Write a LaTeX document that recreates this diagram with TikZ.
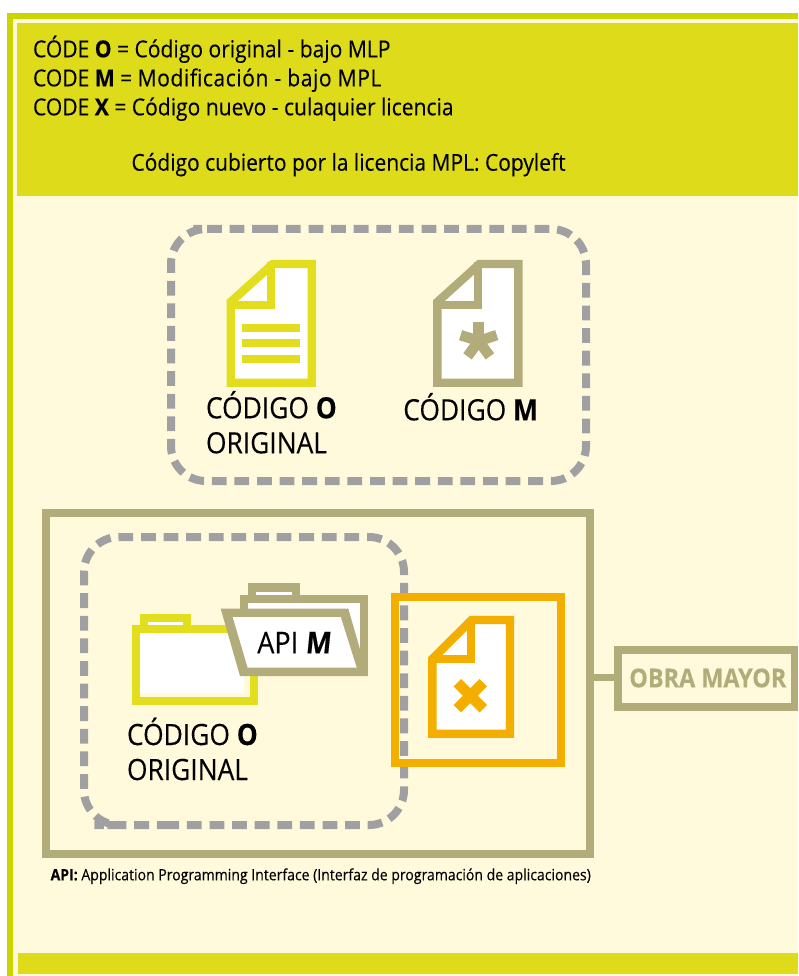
\documentclass[tikz,border=0pt]{standalone}
\usepackage{fontspec}
\setmainfont[FakeStretch=0.9,FakeBold=0.25]{Open Sans}
\definecolor{bordergreen}{HTML}{CCD500}
\definecolor{band}{HTML}{DEDB1A}
\definecolor{cream}{HTML}{FFFADC}
\definecolor{docyellow}{HTML}{E2DE1E}
\definecolor{olive}{HTML}{B2AC7B}
\definecolor{orangeb}{HTML}{F3AE00}
\definecolor{dashgrey}{HTML}{A0A0A3}
\newcommand{\fs}[1]{\fontsize{#1pt}{#1pt}\selectfont}
\tikzset{
  x=1pt,y=-1pt,
  txt/.style={anchor=base west,inner sep=0pt,outer sep=0pt,text=black},
  dashbox/.style={draw=dashgrey,line width=8pt,dash pattern=on 14.8pt off 7.8pt,rounded corners=35pt},
  docsheet/.style={line width=8.4pt,fill=white,miter limit=10},
  boxframe/.style={draw,rectangle,inner sep=0pt,outer sep=0pt},
}
\newcommand{\docicon}[3]{% x left, y top, colour
  \begin{scope}[shift={(#1,#2)}]
    \draw[docsheet,draw=#3] (4,42) -- (46,4) -- (85,4) -- (85,122.7) -- (4,122.7) -- cycle;
    \draw[line width=8pt,draw=#3,miter limit=10] (0.9,44.5) -- (44.5,44.5) -- (44.5,2);
  \end{scope}
}
\begin{document}
\begin{tikzpicture}
\useasboundingbox (0,0) rectangle (798,976);
\fill[white] (0,0) rectangle (798,976);
\fill[bordergreen] (7,13.3) rectangle (798,976);
\fill[cream] (12.5,18.8) rectangle (798,976);
\fill[band] (17,23) rectangle (798,195.7);
\fill[band] (18,953) rectangle (798,974);

% header text
\node[txt] (l1) at (33,57.3) {\fs{23.4}CÓDE \textbf{O} = Código original - bajo MLP};
\node[txt] (l2) at (33,86.3) {\fs{23.4}CODE \textbf{M} = {\addfontfeature{LetterSpace=2.4}Modificación - bajo MPL}};
\node[txt] (l3) at (33,115.3) {\fs{23.4}CODE \textbf{X} = Código nuevo - culaquier licencia};
\node[txt] (l4) at (131.5,170.7) {\fs{23.3}Código cubierto por la licencia MPL: Copyleft};

% upper dashed group
\draw[dashbox] (228.3,229) -- (586,229) -- (586,481) -- (171,481) -- (171,229) -- cycle;

% yellow document
\docicon{226.7}{260}{docyellow}
\draw[line width=7.9pt,docyellow] (241.7,327.8) -- (300,327.8)
   (241.7,343.2) -- (300,343.2) (241.7,358.8) -- (300,358.8);
\node[txt] (c1) at (206,418.3) {\fs{29.3}CÓDIGO \textbf{O}};
\node[txt] (c2) at (206,453.3) {\fs{29.3}ORIGINAL};

% olive document
\docicon{433.4}{260}{olive}
\foreach \a in {90,162,234,306,18}
  \draw[line width=10.5pt,olive] (478.7,341) -- ++({19*cos(\a)},{-19*sin(\a)});
\node[txt] (c3) at (403.3,420.3) {\fs{29.3}CÓDIGO \textbf{M}};

% large frame
\node[boxframe,draw=olive,line width=8pt,minimum width=543.5pt,minimum height=340.6pt,anchor=north west] (big) at (46,513) {};

% lower dashed group
\draw[dashbox] (129.3,825) -- (404,825) -- (404,537) -- (84,537) -- (84,825) -- cycle;

% yellow folder
\fill[docyellow] (140.3,613.7) rectangle (191,630);
\fill[white] (148.3,622) rectangle (183,625);
\fill[docyellow] (132.3,625) rectangle (257.7,704.7);
\fill[cream] (140.3,633) rectangle (250,696.7);
\fill[white] (140.3,633) rectangle (243.5,692.5);

% olive folder
\fill[olive] (248,583.3) rectangle (299.7,600);
\fill[white] (256,591.7) rectangle (291.7,595);
\fill[olive] (240,595) rectangle (367.7,676);
\fill[white] (248,603.3) rectangle (360,660);
\fill[olive] (220.7,608.7) -- (348.3,608.7) -- (367.7,676) -- (240,676) -- cycle;
\fill[white] (232.7,617) -- (340.7,617) -- (356.7,667.7) -- (247.7,667.7) -- cycle;
\node[txt] (apim) at (257.3,653.3) {\fs{30}API \textbf{\addfontfeature{FakeSlant=0.1}M}};

\node[txt] (c4) at (127,745) {\fs{29.3}CÓDIGO \textbf{O}};
\node[txt] (c5) at (127,780) {\fs{29.3}ORIGINAL};

% orange box and document
\draw[line width=7.8pt,orangeb] (395,597) rectangle (561,763);
\begin{scope}
  \draw[docsheet,draw=orangeb] (432.3,659) -- (471.5,620) -- (510,620) -- (510,733.7) -- (432.3,733.7) -- cycle;
  \draw[line width=8pt,draw=orangeb] (430,658.9) -- (471.2,658.9) -- (471.2,618);
\end{scope}
\draw[line width=10.5pt,orangeb] (457.3,682.7) -- (483.3,708.7) (483.3,682.7) -- (457.3,708.7);

% OBRA MAYOR
\node[boxframe,draw=olive,line width=7.8pt,minimum width=176.8pt,minimum height=57.3pt,anchor=north west] (obra) at (617.7,650) {};
\node[txt,text=olive] (obratxt) at (629.3,687.3) {\fs{26}\textbf{OBRA MAYOR}};
\draw[line width=7.6pt,olive] ([yshift=1pt]obra.west) -- ([yshift=1pt]obra.west -| big.east);

% footnote
\node[txt] (api) at (50.6,880.3) {\fs{15.6}\textbf{API:} Application Programming Interface (Interfaz de programación de aplicaciones)};
\end{tikzpicture}
\end{document}
